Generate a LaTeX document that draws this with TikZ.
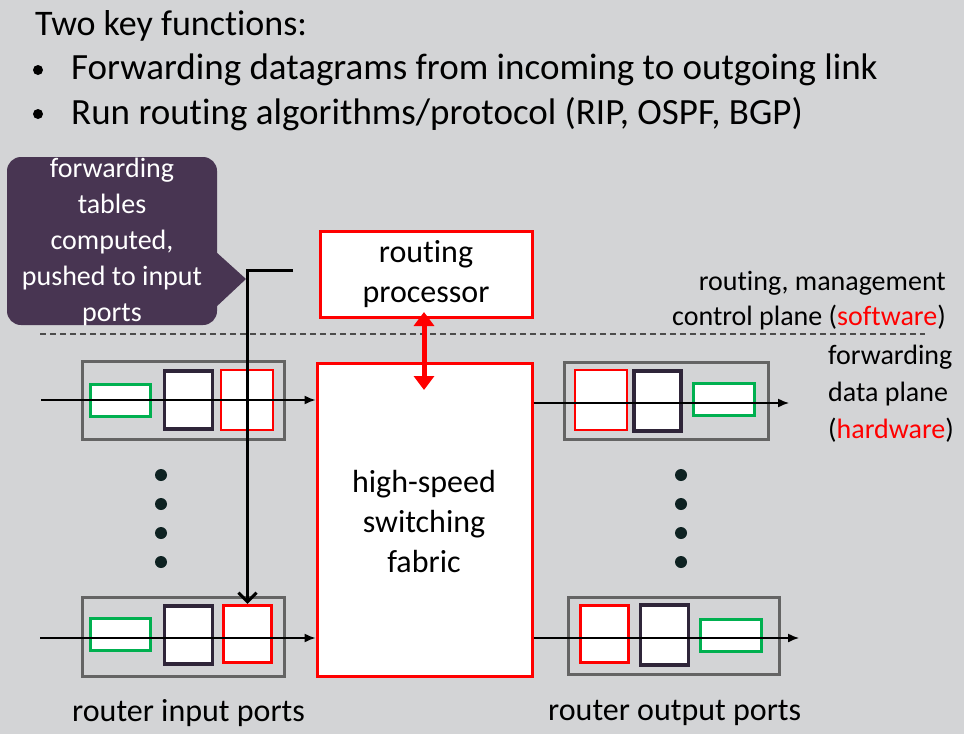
\documentclass[tikz,border=0pt]{standalone}
\usepackage{fontspec}
\setmainfont[Ligatures={NoCommon,NoContextual}]{Carlito}
\usetikzlibrary{arrows.meta}
\definecolor{bgc}{RGB}{211,212,214}
\definecolor{callc}{RGB}{72,53,82}
\definecolor{darkc}{RGB}{47,37,57}
\definecolor{greyc}{RGB}{100,100,100}
\definecolor{grnc}{RGB}{0,176,80}
\definecolor{dotc}{RGB}{14,34,34}
\tikzset{
  port/.style={draw=greyc, line width=3pt, inner sep=0pt},
  grnbox/.style={draw=grnc, fill=white, line width=3pt, inner sep=0pt, minimum width=60pt, minimum height=32pt},
  darkbox/.style={draw=darkc, fill=white, line width=3.5pt, inner sep=0pt, minimum width=48pt, minimum height=58pt},
  redthin/.style={draw=red, fill=white, line width=2pt, inner sep=0pt, minimum width=52pt, minimum height=60pt},
  redthick/.style={draw=red, fill=white, line width=3.5pt, inner sep=0pt, minimum width=48pt, minimum height=57pt},
  bigred/.style={draw=red, fill=white, line width=3pt, inner sep=0pt, align=center, font=\fontsize{32}{40}\selectfont},
  flow/.style={line width=1.4pt, -{Latex[length=11pt,width=9pt]}},
  txt/.style={inner sep=0pt, font=\fontsize{28}{36}\selectfont},
  head/.style={anchor=west, inner sep=0pt, font=\fontsize{37}{45}\selectfont},
  bul/.style={circle, fill=black, inner sep=0pt, minimum size=10pt},
  dotn/.style={circle, fill=dotc, inner sep=0pt, minimum size=12pt}
}
\begin{document}
\begin{tikzpicture}[x=1pt,y=-1pt]
\fill[bgc] (0,0) rectangle (964,734);
\useasboundingbox (0,0) rectangle (964,734);

% heading
\node[head, font=\fontsize{36}{45}\selectfont] (title) at (35,26) {Two key functions:};
\node[bul] (b1) at (38,70) {};
\node[head] (l1) at (71,70) {Forwarding datagrams from incoming to outgoing link};
\node[bul] (b2) at (38,114) {};
\node[head] (l2) at (71,114) {Run routing algorithms/protocol (RIP, OSPF, BGP)};

% callout
\node[fill=callc, rounded corners=14pt, minimum width=210pt, minimum height=168pt, inner sep=0pt] (call) at (112,241) {};
\fill[callc] (215,251) -- (246,279) -- (215,308) -- cycle;
\node[txt, text=white, align=center] (calltxt) at (112,242) {forwarding\\tables\\computed,\\pushed to input\\ports};

% dashed line
\coordinate (dl) at (40,334);
\coordinate (dr) at (925,334);
\draw[draw=black!70, line width=1.5pt, dash pattern=on 6pt off 4pt] (dl) -- (dr);

% routing processor and fabric
\node[bigred, minimum width=212pt, minimum height=86pt] (rp) at (426,274) {routing\\processor};
\node[bigred, minimum width=215pt, minimum height=313pt] (fab) at (424.5,519.5) {};
\node[inner sep=0pt, align=center, font=\fontsize{32}{40}\selectfont] (fabtxt) at (424,521) {high-speed\\switching\\fabric};

\coordinate (da1) at (424,312);
\coordinate (da2) at (424,390);
\draw[red, line width=5pt, {Triangle[length=14pt,width=20pt]}-{Triangle[length=14pt,width=20pt]}] (da1) -- (da2);

% input port top
\node[port, minimum width=202pt, minimum height=78pt] (ip1) at (183,400) {};
\node[grnbox] (ig1) at (120,400) {};
\node[darkbox] (id1) at (188.5,400) {};
\node[redthin] (ir1) at (246.5,399.5) {};
% input port bottom
\node[port, minimum width=202pt, minimum height=79pt] (ip2) at (183,636.5) {};
\node[grnbox] (ig2) at (120,634) {};
\node[darkbox] (id2) at (188.5,635) {};
\node[redthick] (ir2) at (247.5,634) {};
% output port top
\node[port, minimum width=204pt, minimum height=77pt] (op1) at (666,400.5) {};
\node[redthin] (or1) at (601,400) {};
\node[darkbox, minimum width=47pt, minimum height=60pt] (od1) at (657.5,401) {};
\node[grnbox, minimum width=61pt] (og1) at (723.5,399) {};
% output port bottom
\node[port, minimum width=211pt, minimum height=77pt] (op2) at (673.5,635.5) {};
\node[redthick] (or2) at (604.5,634) {};
\node[darkbox, minimum height=60pt] (od2) at (664.5,635) {};
\node[grnbox, minimum width=61pt] (og2) at (730.5,635) {};

% black feed line
\coordinate (ct) at (293,270);
\draw[line width=3pt, -{Straight Barb[length=9pt,width=18pt]}] (ct) -| (ir2.north);

% flows
\coordinate (in1) at (41,400);
\coordinate (in2) at (40,638);
\coordinate (out1) at (789,403);
\coordinate (out2) at (799,638);
\draw[flow] (in1) -- (in1 -| fab.west);
\draw[flow] (in2) -- (in2 -| fab.west);
\draw[flow] (out1 -| fab.east) -- (out1);
\draw[flow] (out2 -| fab.east) -- (out2);

% dots
\foreach \i/\yy in {1/475,2/504,3/533,4/562}{
  \node[dotn] (ld\i) at (161,\yy) {};
  \node[dotn] (rd\i) at (681,\yy) {};
}

% right labels
\node[txt, anchor=east] (rl1) at (946,283) {routing, management};
\node[txt, anchor=east] (rl2) at (946,318) {control plane (\textcolor{red}{software})};
\node[txt, anchor=west] (rl3) at (828,357) {forwarding};
\node[txt, anchor=west] (rl4) at (828,394) {data plane};
\node[txt, anchor=west] (rl5) at (828,430) {(\textcolor{red}{hardware})};

% bottom labels
\node[inner sep=0pt, anchor=west, font=\fontsize{32}{40}\selectfont] (bl1) at (72,713) {router input ports};
\node[inner sep=0pt, anchor=west, font=\fontsize{32}{40}\selectfont] (bl2) at (548,713) {router output ports};
\end{tikzpicture}
\end{document}
